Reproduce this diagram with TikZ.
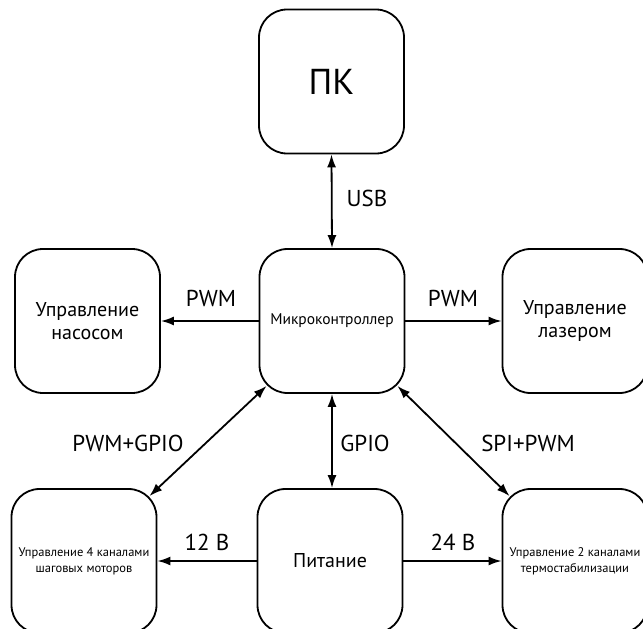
\documentclass[tikz,border=0pt]{standalone}
\usepackage{fontspec}
\setmainfont{PT Sans}
\usetikzlibrary{arrows.meta, calc, positioning}

\begin{document}
\begin{tikzpicture}[x=1pt, y=-1pt, >={Latex[length=13pt,width=9pt]},
    block/.style={draw, line width=1.8pt, rounded corners=28pt, minimum width=145pt, minimum height=144pt, align=center, inner sep=2pt},
    link/.style={line width=1.8pt},
    tag/.style={font=\fontsize{23}{27}\selectfont, inner sep=0pt}]
            \useasboundingbox (0,0) rectangle (643,629);
            \clip (0,0) rectangle (643,629);

            % Blocks
            \node[block, font=\fontsize{36}{40}\selectfont] (pc) at (331.5,81.5) {ПК};
            \node[block, font=\fontsize{20}{23}\selectfont] (pump) at (87.5,321) {Управление\\насосом};
            \node[block, font=\fontsize{15.5}{18}\selectfont] (mcu) at (332,321) {Микроконтроллер};
            \node[block, font=\fontsize{20}{23}\selectfont] (laser) at (575,321) {Управление\\лазером};
            \node[block, font=\fontsize{12.5}{16}\selectfont] (motors) at (84,561) {Управление 4 каналами\\шаговых моторов};
            \node[block, font=\fontsize{20}{23}\selectfont] (power) at (330,561) {Питание};
            \node[block, font=\fontsize{12.5}{16}\selectfont] (thermo) at (575,561) {Управление 2 каналами\\термостабилизации};

            % Connections
            \draw[link, <->] (pc.south) -- (mcu.north);
            \draw[link, ->] (mcu.west) -- (pump.east);
            \draw[link, ->] (mcu.east) -- (laser.west);
            \draw[link, <->] (mcu.south) -- (power.north -| mcu.south);
            \draw[link, <->] ($(mcu.south west)+(8,-8)$) -- ($(motors.north east)+(-8,8)$);
            \draw[link, <->] ($(mcu.south east)+(-8,-8)$) -- ($(thermo.north west)+(8,8)$);
            \draw[link, ->] (power.west) -- (motors.east);
            \draw[link, ->] (power.east) -- (thermo.west);

            % Labels
            \node[tag] (usb) at (367,198) {USB};
            \node[tag] (pwmleft) at (211,298) {PWM};
            \node[tag] (pwmright) at (453,298) {PWM};
            \node[tag] (pwmgpio) at (128,443) {PWM+GPIO};
            \node[tag] (gpio) at (365,443) {GPIO};
            \node[tag] (spipwm) at (528,443) {SPI+PWM};
            \node[tag] (v12) at (207,542) {12 В};
            \node[tag] (v24) at (453,542) {24 В};
        \end{tikzpicture}
\end{document}
